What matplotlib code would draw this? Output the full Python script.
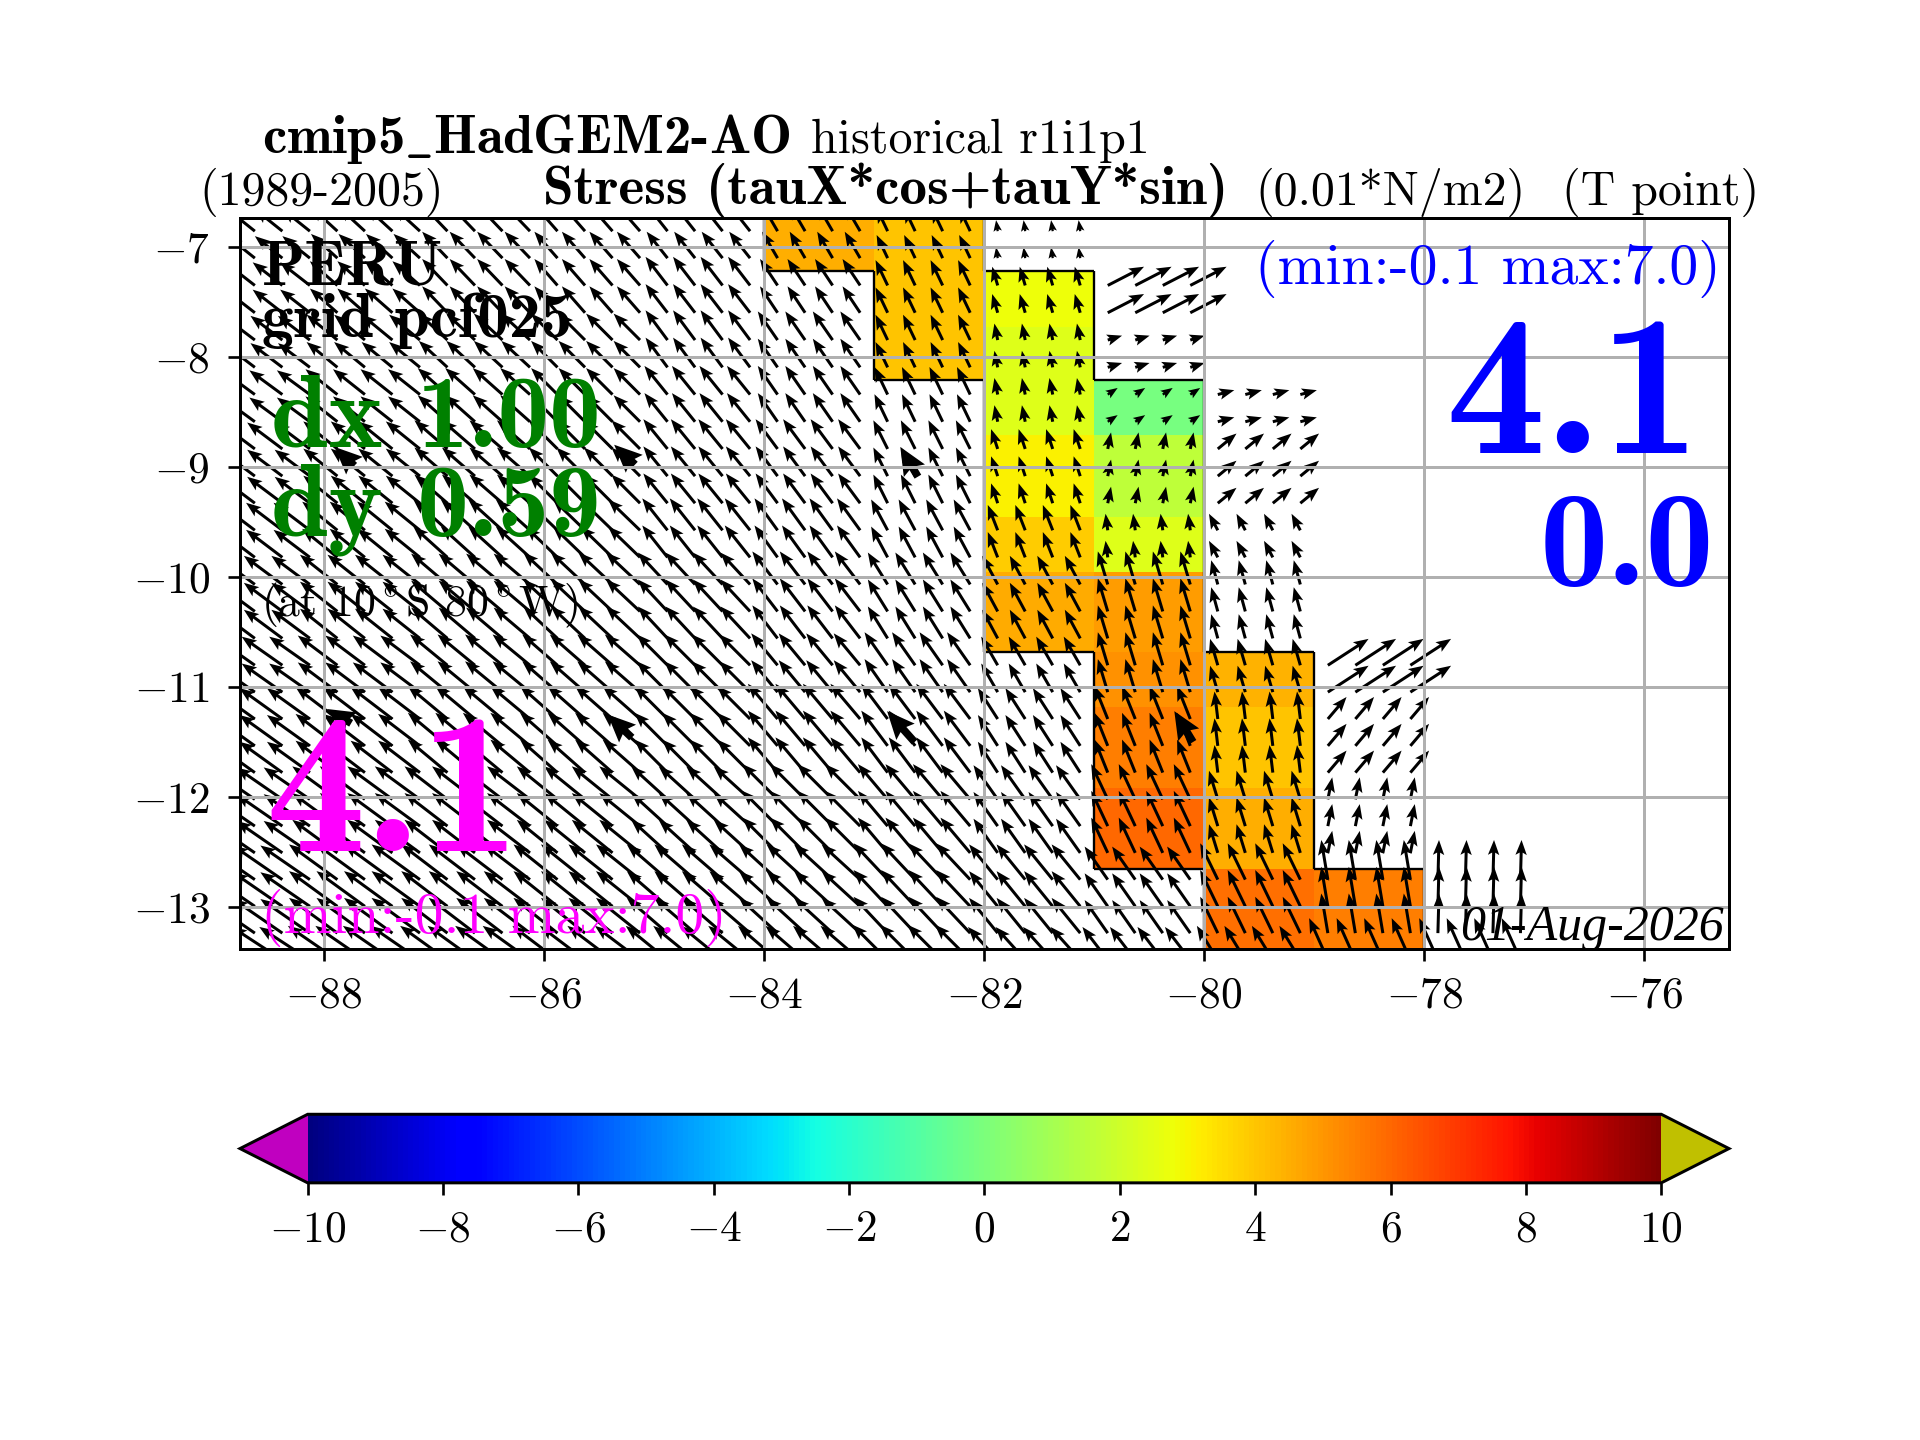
import numpy as np
import matplotlib
matplotlib.use("Agg")
import matplotlib.pyplot as plt
from matplotlib.collections import LineCollection

plt.rcParams['font.family'] = ['cmr10', 'DejaVu Serif']
plt.rcParams['mathtext.fontset'] = 'cm'
plt.rcParams['axes.formatter.use_mathtext'] = True
plt.rcParams['axes.unicode_minus'] = False
plt.rcParams['axes.linewidth'] = 0.9
plt.rcParams['xtick.major.pad'] = 4.7
plt.rcParams['ytick.major.pad'] = 5.5

nan = float('nan')

# ---- shading (0.01 N/m2) -------------------------------------------------
cell_lon_edges = [-84, -83, -82, -81, -80, -79, -78]
cell_lat_edges = [-6.6, -7.22, -7.73, -8.21, -8.71, -9.46, -9.96, -10.68, -11.18, -11.92, -12.65, -13.5]
stress_rows = [
    [4.5, 4.05, nan, nan, nan, nan],
    [nan, 4.05, 2.8, nan, nan, nan],
    [nan, 4.05, 2.4, nan, nan, nan],
    [nan, nan, 2.4, -0.1, nan, nan],
    [nan, nan, 3.1, 1.6, nan, nan],
    [nan, nan, 3.9, 2.4, nan, nan],
    [nan, nan, 4.6, 4.9, nan, nan],
    [nan, nan, nan, 5.1, 4.4, nan],
    [nan, nan, nan, 5.5, 4.0, nan],
    [nan, nan, nan, 5.96, 4.5, nan],
    [nan, nan, nan, nan, 5.8, 5.5],
]

# ---- vectors --------------------------------------------------------------
arrow_lats = [-6.86, -7.105, -7.353, -7.601, -7.849, -8.097, -8.344, -8.591, -8.838, -9.085,
              -9.331, -9.577, -9.823, -10.069, -10.314, -10.559, -10.803, -11.047, -11.291,
              -11.535, -11.778, -12.021, -12.264, -12.507, -12.75, -12.993, -13.236, -13.48]
arrow_band_rows = [2, 2, 2, 2, 3, 2, 3, 2, 3, 3, 3, 1]
arrow_block_lons = [-88.875, -87.875, -86.875, -85.875, -84.875, -83.875,
                    -82.875, -81.875, -80.875, -79.875, -78.875, -77.875]
tau_u_bands = [
    [-2.5, -2.4, -2.3, -2.1, -1.9, -1.4, -1.0, -0.15, nan, nan, nan, nan],
    [-2.7, -2.5, -2.3, -2.1, -2.0, -1.6, -1.1, -0.5, 3.3, nan, nan, nan],
    [-2.9, -2.8, -2.6, -2.4, -2.0, -1.8, -1.1, -0.3, 1.3, nan, nan, nan],
    [-3.0, -2.9, -2.7, -2.4, -2.1, -1.8, -1.2, -0.3, 0.9, 1.5, nan, nan],
    [-3.2, -3.1, -3.0, -2.6, -2.2, -2.0, -1.3, -0.6, 0.3, 1.7, nan, nan],
    [-3.3, -3.2, -3.1, -2.9, -2.3, -2.1, -1.5, -0.9, -0.2, -0.8, nan, nan],
    [-3.5, -3.4, -3.3, -3.1, -2.7, -2.3, -1.8, -1.4, -0.9, -0.6, nan, nan],
    [-3.7, -3.6, -3.4, -3.2, -2.8, -2.4, -2.1, -1.5, -0.9, -0.7, 3.7, nan],
    [-3.9, -3.8, -3.6, -3.4, -3.0, -2.7, -2.4, -1.8, -1.2, -0.3, 1.7, nan],
    [-4.2, -4.1, -3.9, -3.7, -3.3, -3.2, -2.7, -2.2, -1.5, -0.8, 0.4, nan],
    [-4.5, -4.4, -4.2, -4.0, -3.7, -3.5, -3.1, -2.6, -2.1, -1.6, -0.6, 0.1],
    [-4.6, -4.5, -4.3, -4.1, -3.8, -3.6, -3.2, -2.7, -2.3, -1.9, -1.7, -1.7],
]
tau_v_bands = [
    [2.0, 2.2, 2.4, 2.4, 2.4, 2.4, 2.1, 1.0, nan, nan, nan, nan],
    [2.1, 2.2, 2.4, 2.4, 2.6, 2.4, 2.3, 1.7, 1.7, nan, nan, nan],
    [2.2, 2.3, 2.4, 2.4, 2.7, 2.6, 2.3, 1.5, 0.4, nan, nan, nan],
    [2.2, 2.3, 2.4, 2.4, 2.6, 2.6, 2.5, 1.5, 0.6, 0.4, nan, nan],
    [2.4, 2.5, 2.6, 2.6, 2.7, 2.7, 2.6, 1.8, 1.5, 1.4, nan, nan],
    [2.5, 2.6, 2.8, 2.8, 2.9, 2.9, 2.8, 2.3, 1.5, 1.5, nan, nan],
    [2.6, 2.7, 2.8, 2.9, 2.9, 3.0, 2.9, 2.6, 3.0, 2.2, nan, nan],
    [2.6, 2.7, 2.8, 2.8, 2.8, 2.9, 3.0, 2.6, 3.0, 2.4, 2.4, nan],
    [2.8, 2.9, 3.0, 3.0, 3.0, 3.2, 3.2, 2.8, 3.0, 2.5, 2.0, nan],
    [2.9, 3.0, 3.0, 3.0, 3.0, 3.2, 3.2, 3.1, 3.2, 2.6, 2.0, nan],
    [3.1, 3.2, 3.2, 3.2, 3.2, 3.2, 3.3, 3.2, 3.0, 3.3, 3.6, 3.6],
    [3.0, 3.1, 3.1, 3.1, 3.1, 3.1, 3.2, 3.0, 3.0, 3.1, 3.8, 3.8],
]
# heavier sparse arrows
big_lon = [-87.72, -85.17, -82.6, -87.75, -85.2, -82.63, -80.1]
big_lat = [-8.99, -8.98, -9.09, -11.33, -11.46, -11.5, -11.5]
big_u = [-1.8, -1.9, -1.6, -2.2, -2.2, -2.5, -1.7]
big_v = [1.7, 1.8, 2.7, 1.3, 2.1, 2.8, 2.8]

x_ticks = [-88, -86, -84, -82, -80, -78, -76]
y_ticks = [-7, -8, -9, -10, -11, -12, -13]
cbar_ticks = [-10, -8, -6, -4, -2, 0, 2, 4, 6, 8, 10]

W, H = 1568.0, 1176.0
def fx(x): return x / W
def fy(y): return 1 - y / H

fig = plt.figure(figsize=(8, 6), dpi=240)
ax = fig.add_axes([fx(196), fy(775), fx(1412) - fx(196), fy(178) - fy(775)])

cmap = plt.get_cmap('jet').copy()
cmap.set_under('#C000C0')
cmap.set_over('#C0C000')
Z = np.ma.masked_invalid(np.array(stress_rows, dtype=float))
mesh = ax.pcolormesh(cell_lon_edges, cell_lat_edges, Z, cmap=cmap, vmin=-10, vmax=10, zorder=1)

# black outline around the shaded cells
segs = []
m = ~Z.mask
nr, nc = m.shape
for j in range(nr):
    for i in range(nc):
        if not m[j, i]:
            continue
        x0, x1 = cell_lon_edges[i], cell_lon_edges[i + 1]
        y0, y1 = cell_lat_edges[j], cell_lat_edges[j + 1]
        if j == 0 or not m[j - 1, i]: segs.append([(x0, y0), (x1, y0)])
        if j == nr - 1 or not m[j + 1, i]: segs.append([(x0, y1), (x1, y1)])
        if i == 0 or not m[j, i - 1]: segs.append([(x0, y0), (x0, y1)])
        if i == nc - 1 or not m[j, i + 1]: segs.append([(x1, y0), (x1, y1)])
ax.add_collection(LineCollection(segs, colors='k', linewidths=0.7, zorder=1.2))

U = np.repeat(np.repeat(np.array(tau_u_bands), arrow_band_rows, axis=0), 4, axis=1)
V = np.repeat(np.repeat(np.array(tau_v_bands), arrow_band_rows, axis=0), 4, axis=1)
lon_grid = np.repeat(arrow_block_lons, 4) + np.tile([0, 0.25, 0.5, 0.75], 12)
X, Y = np.meshgrid(lon_grid, arrow_lats)
qkw = dict(angles='xy', scale_units='xy', scale=10, units='inches', pivot='tail', color='k', zorder=1.5)
ax.quiver(X, Y, U, V, width=0.0125, headwidth=3.8, headlength=5, headaxislength=4.2, **qkw)
ax.quiver(big_lon, big_lat, big_u, big_v, width=0.032, headwidth=3.2, headlength=3.6, headaxislength=3.2, **qkw)

ax.set_xlim(-88.76, -75.23)
ax.set_ylim(-13.38, -6.74)
ax.set_xticks(x_ticks)
ax.set_xticklabels([f'${v}$' for v in x_ticks], fontsize=13)
ax.set_yticks(y_ticks)
ax.set_yticklabels([f'${v}$' for v in y_ticks], fontsize=13)
ax.grid(True, color='#b0b0b0', lw=0.9, zorder=2.5)

def T(x, y, s, size, color='k', bold=False, ha='left', **kw):
    fig.text(fx(x), fy(y), s, fontsize=size, color=color, ha=ha, va='baseline',
             family=['cmb10', 'cmr10'] if bold else ['cmr10'], zorder=5, **kw)

T(430, 125, r'cmip5$\_$HadGEM2-AO', 16.4, bold=True, ha='center')
T(662, 125, 'historical r1i1p1', 14.4)
T(163, 167, '(1989-2005)', 14.4)
T(723, 167, 'Stress (tauX*cos+tauY*sin)', 16.5, bold=True, ha='center')
T(1025, 167, '(0.01*N/m2)', 14.4)
T(1276, 167, '(T point)', 14.4)
T(214, 232, 'PERU', 19, bold=True)
T(214, 275, 'grid pcf025', 19, bold=True)
T(356, 365, 'dx 1.00', 31, 'green', bold=True, ha='center')
T(356, 437, 'dy 0.59', 31, 'green', bold=True, ha='center')
T(213, 503, r'(at 10$^\circ$S 80$^\circ$W)', 13.1)
T(321, 695, '4.1', 60, '#FF00FF', bold=True, ha='center')
T(213, 762, '(min:-0.1 max:7.0)', 17.3, '#FF00FF')
T(1405, 232, '(min:-0.1 max:7.0)', 17.3, 'blue', ha='right')
T(1285, 370, '4.1', 60, 'blue', bold=True, ha='center')
T(1329, 478, '0.0', 41, 'blue', bold=True, ha='center')
fig.text(fx(1408), fy(768), '01-Aug-2026', fontsize=15, ha='right', va='baseline',
         family='Liberation Serif', style='italic', zorder=5)

cax = fig.add_axes([fx(196), fy(966), fx(1412) - fx(196), fy(910) - fy(966)])
cb = fig.colorbar(mesh, cax=cax, orientation='horizontal', extend='both', extendfrac=0.05, ticks=cbar_ticks)
cb.ax.set_xticklabels([f'${v}$' for v in cbar_ticks], fontsize=13)

fig.savefig('out.png', dpi=240)
